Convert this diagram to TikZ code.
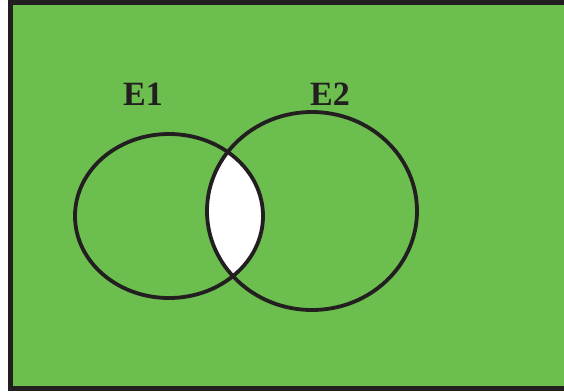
\documentclass[tikz,border=0pt]{standalone}
\usepackage{fontspec}
\setmainfont{Liberation Serif}
\definecolor{bggreen}{RGB}{108,190,78}
\definecolor{ink}{RGB}{35,31,32}
\begin{document}
\begin{tikzpicture}[x=1pt,y=-1pt,
  setline/.style={draw=ink,line width=3.8pt},
  lab/.style={font=\fontsize{34}{36}\selectfont\bfseries,text=ink,inner sep=0pt}]
\useasboundingbox (0,0) rectangle (564,391);
\begin{scope}
\clip (0,0) rectangle (564,391);
\fill[white] (0,0) rectangle (564,391);
\filldraw[fill=bggreen,draw=ink,line width=5pt] (10.5,2.5) rectangle (575,388.5);
\end{scope}
\begin{scope}
\clip (169,216) ellipse [x radius=94,y radius=82];
\fill[white] (312,211) ellipse [x radius=105,y radius=99];
\end{scope}
\draw[setline] (169,216) ellipse [x radius=94,y radius=82];
\draw[setline] (312,211) ellipse [x radius=105,y radius=99];
\node[lab,anchor=base] (e1) at (143,105) {E1};
\node[lab,anchor=base] (e2) at (330,105) {E2};
\end{tikzpicture}
\end{document}
